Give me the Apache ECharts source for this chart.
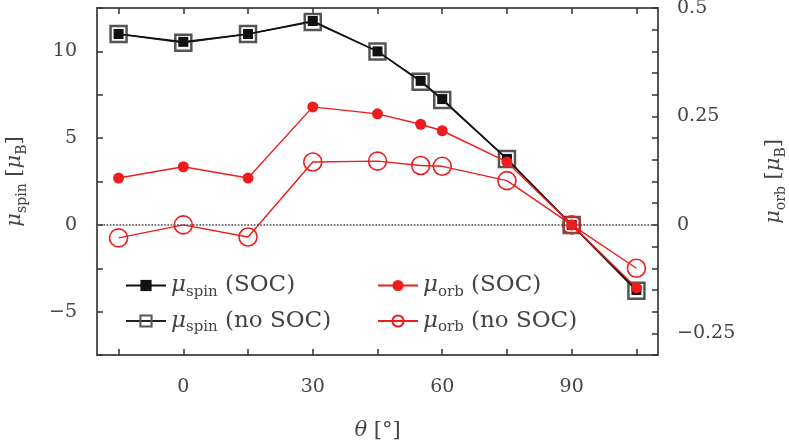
<!DOCTYPE html>
<html><head><meta charset="utf-8">
<script src="https://cdn.jsdelivr.net/npm/echarts@6/dist/echarts.min.js"></script>
<style>html,body{margin:0;padding:0;background:#fff}#c{width:789px;height:443px}</style>
</head><body><div id="c"></div>
<script>
const theta = [-15, 0, 15, 30, 45, 55, 60, 75, 90, 105];
const spinSOC = [11.0, 10.55, 11.0, 11.75, 10.0, 8.3, 7.25, 3.8, 0, -3.75];
const spinNoSOC = [11.0, 10.5, 11.0, 11.7, 10.0, 8.25, 7.2, 3.8, 0, -3.8];
const orbSOC = [0.108, 0.134, 0.108, 0.272, 0.256, 0.232, 0.217, 0.145, 0, -0.145];
const orbNoSOC = [-0.03, 0, -0.028, 0.145, 0.147, 0.137, 0.135, 0.102, 0, -0.10];
const xTicks = [-15, 0, 15, 30, 45, 60, 75, 90, 105];
const xLabels = [0, 30, 60, 90];
const ySpinTicks = [-7.5, -5, -2.5, 0, 2.5, 5, 7.5, 10, 12.5];
const ySpinLabels = [-5, 0, 5, 10];
const yOrbTicks = [-0.3, -0.25, -0.2, -0.15, -0.1, -0.05, 0, 0.05, 0.1, 0.15, 0.2, 0.25, 0.3, 0.35, 0.4, 0.45, 0.5];
const yOrbLabels = [-0.25, 0, 0.25, 0.5];
const names = ['spinSOC', 'spinNoSOC', 'orbSOC', 'orbNoSOC'];

const FONT = 'DejaVu Serif';
const TXT = '#444';
const RED = '#ee1c1c';
const CLEAR = 'rgba(255,255,255,0)';
const pairs = (ys) => theta.map((t, i) => [t, ys[i]]);
const fmt = (v) => (v < 0 ? '\u2212' + String(Math.abs(v)) : String(v));
const rich = {
  m: { fontFamily: FONT, fontStyle: 'italic', fontSize: 21, color: TXT, lineHeight: 28 },
  s: { fontFamily: FONT, fontSize: 14, color: TXT, lineHeight: 14, verticalAlign: 'bottom' },
  t: { fontFamily: FONT, fontSize: 21, color: TXT, lineHeight: 28 }
};
const legRich = {
  m: { fontFamily: FONT, fontStyle: 'italic', fontSize: 23, color: TXT, lineHeight: 28 },
  s: { fontFamily: FONT, fontSize: 15, color: TXT, lineHeight: 14, verticalAlign: 'bottom' },
  t: { fontFamily: FONT, fontSize: 23, color: TXT, lineHeight: 28 }
};
const legendText = {
  spinSOC: '{m|\u03bc}{s|spin}{t| (SOC)}',
  spinNoSOC: '{m|\u03bc}{s|spin}{t| (no SOC)}',
  orbSOC: '{m|\u03bc}{s|orb}{t| (SOC)}',
  orbNoSOC: '{m|\u03bc}{s|orb}{t| (no SOC)}'
};
const axisLineStyle = { color: '#555', width: 2 };
const tickStyle = { color: '#333', width: 1.5 };
const tickFont = { fontFamily: FONT, fontSize: 19, color: TXT };

const chart = echarts.init(document.getElementById('c'), null, { renderer: 'canvas' });
chart.setOption({
  animation: false,
  backgroundColor: '#fff',
  grid: { left: 97, right: 131, top: 8, bottom: 88, outerBoundsMode: 'none', containLabel: false },
  legend: [
    { data: [names[0], names[1]], orient: 'vertical', left: 120, top: 269, itemWidth: 40, itemHeight: 14, itemGap: 10,
      formatter: (n) => legendText[n], textStyle: { rich: legRich, fontFamily: FONT, fontSize: 23, color: TXT } },
    { data: [names[2], names[3]], orient: 'vertical', left: 372, top: 269, itemWidth: 40, itemHeight: 14, itemGap: 10,
      formatter: (n) => legendText[n], textStyle: { rich: legRich, fontFamily: FONT, fontSize: 23, color: TXT } }
  ],
  xAxis: [
    { type: 'value', min: -20, max: 110, position: 'bottom',
      name: '{m|\u03b8}{t| [\u00b0]}', nameLocation: 'middle', nameGap: 62,
      nameTextStyle: { rich: rich },
      axisLine: { show: true, onZero: false, lineStyle: axisLineStyle },
      axisTick: { show: true, inside: true, length: 6, customValues: xTicks, lineStyle: tickStyle },
      axisLabel: Object.assign({ customValues: xLabels, margin: 23, formatter: fmt }, tickFont),
      splitLine: { show: false } },
    { type: 'value', min: -20, max: 110, position: 'top',
      axisLine: { show: true, onZero: false, lineStyle: axisLineStyle },
      axisTick: { show: true, inside: true, length: 6, customValues: xTicks, lineStyle: tickStyle },
      axisLabel: { show: false }, splitLine: { show: false } }
  ],
  yAxis: [
    { type: 'value', min: -7.5, max: 12.5, position: 'left',
      name: '{m|\u03bc}{s|spin}{t| [}{m|\u03bc}{s|B}{t|]}', nameLocation: 'middle', nameGap: 68, nameRotate: 90,
      nameTextStyle: { rich: rich },
      axisLine: { show: true, onZero: false, lineStyle: axisLineStyle },
      axisTick: { show: true, inside: true, length: 6, customValues: ySpinTicks, lineStyle: tickStyle },
      axisLabel: Object.assign({ customValues: ySpinLabels, margin: 20, formatter: fmt }, tickFont),
      splitLine: { show: false } },
    { type: 'value', min: -0.3, max: 0.5, position: 'right',
      name: '{m|\u03bc}{s|orb}{t| [}{m|\u03bc}{s|B}{t|]}', nameLocation: 'middle', nameGap: 102, nameRotate: 90,
      nameTextStyle: { rich: rich },
      axisLine: { show: true, onZero: false, lineStyle: axisLineStyle },
      axisTick: { show: true, inside: true, length: 6, customValues: yOrbTicks, lineStyle: tickStyle },
      axisLabel: Object.assign({ customValues: yOrbLabels, margin: 19, formatter: fmt }, tickFont),
      splitLine: { show: false } }
  ],
  series: [
    { name: names[1], type: 'line', xAxisIndex: 0, yAxisIndex: 0, data: pairs(spinNoSOC), z: 2,
      symbol: 'rect', symbolSize: 16, color: '#555',
      lineStyle: { color: '#222', width: 1.4 }, itemStyle: { color: CLEAR, borderColor: '#555', borderWidth: 2.5 },
      markLine: { silent: true, symbol: 'none', label: { show: false },
        lineStyle: { type: 'dotted', color: '#444', width: 1.6 }, data: [{ yAxis: 0 }] } },
    { name: names[0], type: 'line', xAxisIndex: 0, yAxisIndex: 0, data: pairs(spinSOC), z: 3,
      symbol: 'rect', symbolSize: 10, color: '#111',
      lineStyle: { color: '#111', width: 1.6 }, itemStyle: { color: '#111' } },
    { name: names[3], type: 'line', xAxisIndex: 0, yAxisIndex: 1, data: pairs(orbNoSOC), z: 4,
      symbol: 'circle', symbolSize: 18, color: RED,
      lineStyle: { color: RED, width: 1.4 }, itemStyle: { color: CLEAR, borderColor: RED, borderWidth: 1.6 } },
    { name: names[2], type: 'line', xAxisIndex: 0, yAxisIndex: 1, data: pairs(orbSOC), z: 5,
      symbol: 'circle', symbolSize: 11, color: RED,
      lineStyle: { color: RED, width: 1.4 }, itemStyle: { color: RED } }
  ]
});
</script></body></html>
